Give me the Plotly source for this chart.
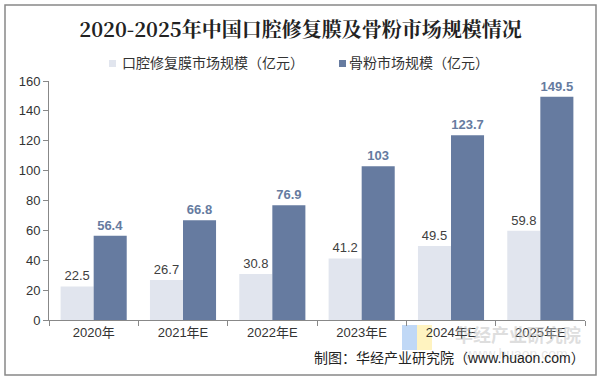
import plotly.graph_objects as go

categories = ["2020年", "2021年E", "2022年E", "2023年E", "2024年E", "2025年E"]
membrane = [22.5, 26.7, 30.8, 41.2, 49.5, 59.8]
bone = [56.4, 66.8, 76.9, 103, 123.7, 149.5]
series_names = ["口腔修复膜市场规模（亿元）", "骨粉市场规模（亿元）"]
colors = ["#E1E5EE", "#667BA0"]

font = "Liberation Sans, Arial, Noto Sans CJK SC, sans-serif"

L, R, T, B = 49, 16, 81, 60
W, H = 601, 380
pw, ph = W - L - R, H - T - B
def px(x):
    return (x - L) / pw
def py(y):
    return (H - B - y) / ph

fig = go.Figure()
fig.add_trace(go.Bar(
    x=categories, y=membrane, name=series_names[0],
    marker=dict(color=colors[0], line=dict(width=0)),
    text=[f"{v:g}" for v in membrane], textposition="outside",
    textfont=dict(color="#404040", size=13, family=font),
    cliponaxis=False, showlegend=False,
))
fig.add_trace(go.Bar(
    x=categories, y=bone, name=series_names[1],
    marker=dict(color=colors[1], line=dict(width=0)),
    text=[f"<b>{v:g}</b>" for v in bone], textposition="outside",
    textfont=dict(color=colors[1], size=13, family=font),
    cliponaxis=False, showlegend=False,
))

fig.update_layout(
    width=W, height=H,
    margin=dict(l=L, r=R, t=T, b=B),
    paper_bgcolor="white", plot_bgcolor="white",
    barmode="group", bargap=0.26, bargroupgap=0,
    title=dict(text="<b>2020-2025年中国口腔修复膜及骨粉市场规模情况</b>",
               x=0.5, xanchor="center", y=0.921, yanchor="middle",
               font=dict(family="Noto Serif CJK SC, DejaVu Serif, serif", size=20, color="#222222")),
    font=dict(family=font),
)
fig.update_xaxes(showline=True, linecolor="#888888", linewidth=1,
                 ticks="outside", ticklen=5, tickcolor="#888888",
                 tickson="boundaries",
                 tickfont=dict(size=13, color="#333333", family=font))
fig.update_yaxes(range=[0, 160], dtick=20, showgrid=False, zeroline=False,
                 showline=True, linecolor="#888888", linewidth=1,
                 ticks="outside", ticklen=5, tickcolor="#888888",
                 tickfont=dict(size=13, color="#333333", family=font))

# manual legend
legend_pos = [(109, 122), (339, 349)]
for (sx, tx), name, c in zip(legend_pos, series_names, colors):
    fig.add_shape(type="rect", xref="paper", yref="paper",
                  x0=px(sx), x1=px(sx + 7), y0=py(67), y1=py(60),
                  fillcolor=c, line=dict(width=0))
    fig.add_annotation(text=name, xref="paper", yref="paper", x=px(tx), y=py(63.5),
                       xanchor="left", yanchor="middle", showarrow=False,
                       xshift=-2, font=dict(size=14, color="#333333", family=font))

# watermark
fig.add_shape(type="rect", xref="paper", yref="paper", x0=px(402), x1=px(417), y0=py(350), y1=py(325),
              fillcolor="rgba(150,190,240,0.6)", line=dict(width=0), layer="below")
fig.add_shape(type="rect", xref="paper", yref="paper", x0=px(417), x1=px(432), y0=py(350), y1=py(325),
              fillcolor="rgba(255,235,150,0.6)", line=dict(width=0), layer="below")
fig.add_annotation(text="<b>华经产业研究院</b>", xref="paper", yref="paper",
                   x=px(453), y=py(335), xanchor="left", yanchor="middle", showarrow=False,
                   font=dict(size=18, color="rgba(190,190,190,0.5)", family=font))
fig.add_annotation(text="www.huaon.com", xref="paper", yref="paper",
                   x=px(462), y=py(354), xanchor="left", yanchor="middle", showarrow=False,
                   font=dict(size=14, color="rgba(200,200,200,0.45)", family=font))

fig.add_annotation(text="制图：华经产业研究院（www.huaon.com）", xref="paper", yref="paper",
                   x=px(587), y=py(358), xanchor="right", yanchor="middle", showarrow=False,
                   font=dict(size=14, color="#222222", family=font))
fig.add_shape(type="rect", xref="paper", yref="paper", x0=px(5), x1=px(596), y0=py(375), y1=py(5),
              line=dict(color="#888888", width=1.5), fillcolor="rgba(0,0,0,0)", layer="below")

fig.write_html("out.html", config={"displayModeBar": False},
               post_script="document.body.style.margin='0';document.body.style.padding='0';")
